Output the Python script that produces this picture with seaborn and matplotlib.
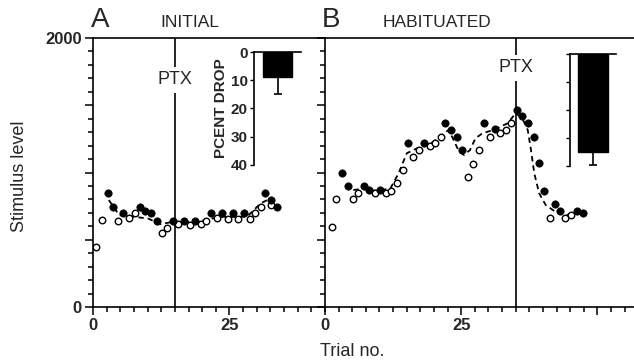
import matplotlib
matplotlib.use("Agg")
import matplotlib.pyplot as plt
import seaborn as sns
from matplotlib.ticker import FixedLocator, FixedFormatter, MultipleLocator

# ---------------------------------------------------------------------------
# Data
# ---------------------------------------------------------------------------

# Panel A - initial
a_open_trial = [0.6, 1.7, 4.6, 6.6, 7.7, 12.6, 13.6, 15.6, 17.7, 19.7, 20.7,
                22.7, 24.7, 26.6, 28.7, 29.6, 30.7, 32.6]
a_open_level = [447, 646, 641, 658, 696, 547, 589, 616, 609, 614, 641,
                658, 653, 653, 653, 696, 745, 758]
a_fill_trial = [2.8, 3.7, 5.5, 8.6, 9.6, 10.6, 11.7, 14.6, 16.7, 18.7, 21.7,
                23.7, 25.6, 27.6, 31.6, 32.6, 33.7]
a_fill_level = [845, 745, 696, 745, 715, 696, 641, 641, 641, 641, 696,
                696, 696, 696, 845, 795, 740]
a_fit_trial = [2.9, 4.8, 7.4, 10.1, 12.3, 14.7, 19.0, 23.3, 28.2, 30.7, 31.9, 33.5]
a_fit_level = [795, 683, 671, 658, 616, 633, 633, 671, 671, 770, 795, 733]

# Panel B - habituated
b_open_trial = [1.2, 2.1, 5.1, 6.1, 9.1, 11.2, 12.2, 13.2, 14.3, 16.2, 17.2,
                19.2, 20.1, 21.2, 26.2, 27.2, 28.3, 30.2, 32.2, 33.2, 34.1,
                41.2, 44.1, 45.1]
b_open_level = [596, 800, 800, 850, 850, 850, 864, 919, 1018, 1118, 1167,
                1197, 1222, 1267, 969, 1063, 1167, 1267, 1297, 1316, 1371,
                663, 658, 683]
b_fill_trial = [3.2, 4.2, 7.2, 8.1, 10.1, 15.2, 18.1, 22.1, 23.2, 24.3, 25.2,
                29.2, 31.2, 35.3, 36.2, 37.3, 38.3, 39.2, 40.1, 42.2, 43.2,
                46.2, 47.3]
b_fill_level = [999, 902, 902, 869, 869, 1217, 1217, 1371, 1316, 1267, 1167,
                1371, 1322, 1466, 1421, 1366, 1267, 1068, 864, 765, 715,
                713, 696]
b_fit_trial = [5.2, 7.1, 9.5, 12.0, 13.5, 15.0, 16.9, 19.3, 21.5, 22.7, 23.6,
               24.6, 25.5, 26.6, 27.6, 28.9, 31.0, 33.5, 35.0, 36.2, 37.2,
               37.8, 38.4, 39.3, 40.5, 42.1, 44.0, 46.4]
b_fit_level = [869, 882, 862, 882, 994, 1143, 1180, 1212, 1279, 1317, 1242,
               1155, 1130, 1167, 1254, 1292, 1317, 1366, 1441, 1403, 1317,
               1167, 994, 845, 758, 713, 683, 696]

ptx_trial = {"A": 15, "B": 35}

# Inset bars: percent drop after PTX
drop_mean = {"A": 9, "B": 35}
drop_err = {"A": 6, "B": 4.6}

# ---------------------------------------------------------------------------
# Style
# ---------------------------------------------------------------------------
sns.set_theme(style="white")
plt.rcParams["font.family"] = ["Liberation Sans", "DejaVu Sans"]
plt.rcParams["axes.linewidth"] = 1.2

W, H = 634, 364
fig = plt.figure(figsize=(W / 100, H / 100), dpi=100)


def box(left, top, right, bottom):
    """Pixel box -> figure fraction rect."""
    return [left / W, 1 - bottom / H, (right - left) / W, (bottom - top) / H]


ax_a = fig.add_axes(box(93, 38, 325, 307))
ax_b = fig.add_axes(box(325, 38, 634, 307))


def draw_panel(ax, open_t, open_v, fill_t, fill_v, fit_t, fit_v, ptx, ptx_y, xmax):
    sns.lineplot(x=fit_t, y=fit_v, color="black", linewidth=1.3,
                 linestyle=(0, (3, 2.2)), ax=ax, zorder=2)
    sns.scatterplot(x=open_t, y=open_v, color="white", edgecolor="black",
                    linewidth=1.0, s=22, ax=ax, zorder=3)
    sns.scatterplot(x=fill_t, y=fill_v, color="black", edgecolor="black",
                    linewidth=0.5, s=28, ax=ax, zorder=4)
    ax.axvline(ptx, color="black", linewidth=1.2, zorder=1)
    ax.text(ptx, ptx_y, "PTX", ha="center", va="center", fontsize=13,
            bbox=dict(facecolor="white", edgecolor="none", pad=3), zorder=5)

    ax.set_xlim(0, xmax)
    ax.set_ylim(0, 2000)
    ax.set_xlabel("")
    ax.set_ylabel("")
    ax.spines["right"].set_visible(False)
    for s in ["left", "top", "bottom"]:
        ax.spines[s].set_color("black")

    ax.xaxis.set_major_locator(FixedLocator([0, 25, 50]))
    ax.xaxis.set_major_formatter(FixedFormatter(["0", "25", ""]))
    ax.xaxis.set_minor_locator(MultipleLocator(2.5))
    ax.yaxis.set_major_locator(FixedLocator([0, 500, 1000, 1500, 2000]))
    ax.yaxis.set_major_formatter(FixedFormatter(["0", "", "", "", "2000"]))
    ax.yaxis.set_minor_locator(MultipleLocator(100))
    ax.tick_params(which="both", direction="out", color="black",
                   left=True, bottom=True, width=1.1)
    ax.tick_params(which="major", length=6, labelsize=12, pad=2)
    ax.tick_params(which="minor", length=3.5)
    for lab in ax.get_xticklabels() + ax.get_yticklabels():
        lab.set_fontweight("bold")


draw_panel(ax_a, a_open_trial, a_open_level, a_fill_trial, a_fill_level,
           a_fit_trial, a_fit_level, ptx_trial["A"], 1688, 42.5)
draw_panel(ax_b, b_open_trial, b_open_level, b_fill_trial, b_fill_level,
           b_fit_trial, b_fit_level, ptx_trial["B"], 1777, 56.7)
ax_b.tick_params(axis="y", labelleft=False)


# ---------------------------------------------------------------------------
# Inset bar charts (percent drop)
# ---------------------------------------------------------------------------
def draw_inset(ax, key, width, labels=True):
    sns.barplot(x=[key], y=[drop_mean[key]], color="black", width=width,
                saturation=1, edgecolor="black", ax=ax)
    ax.errorbar(0, drop_mean[key], yerr=[[0], [drop_err[key]]], color="black",
                capsize=3, elinewidth=1.2, capthick=1.2, fmt="none")
    ax.set_xlim(-0.5, 0.5)
    ax.set_ylim(40, 0)
    ax.set_facecolor("none")
    ax.spines["right"].set_visible(False)
    ax.spines["bottom"].set_visible(False)
    ax.spines["left"].set_color("black")
    ax.spines["top"].set_color("black")
    ax.set_xticks([])
    ax.set_xlabel("")
    ax.set_yticks([0, 10, 20, 30, 40])
    ax.tick_params(axis="y", direction="out", length=3, width=1, color="black",
                   left=True, labelsize=11, pad=1.5, labelleft=labels)
    if labels:
        for lab in ax.get_yticklabels():
            lab.set_fontweight("bold")
        ax.set_ylabel("PCENT DROP", fontsize=11, fontweight="bold", labelpad=2)
    else:
        ax.set_ylabel("")


ax_ia = fig.add_axes(box(254, 52, 301, 165))
draw_inset(ax_ia, "A", 0.62)
ax_ib = fig.add_axes(box(570, 54, 616, 166))
draw_inset(ax_ib, "B", 0.65, labels=False)

# ---------------------------------------------------------------------------
# Figure labels
# ---------------------------------------------------------------------------
fig.text(100 / W, 1 - 27 / H, "A", fontsize=20, ha="center", va="baseline")
fig.text(190 / W, 1 - 27 / H, "INITIAL", fontsize=12.5, ha="center", va="baseline")
fig.text(331 / W, 1 - 27 / H, "B", fontsize=20, ha="center", va="baseline")
fig.text(437 / W, 1 - 27 / H, "HABITUATED", fontsize=12.5, ha="center", va="baseline")
fig.text(20 / W, 1 - 176 / H, "Stimulus level", fontsize=13, rotation=90,
         ha="center", va="center")
fig.text(352 / W, 1 - 352 / H, "Trial no.", fontsize=13, ha="center", va="center")

fig.savefig("out.png", dpi=100)
plt.close(fig)
